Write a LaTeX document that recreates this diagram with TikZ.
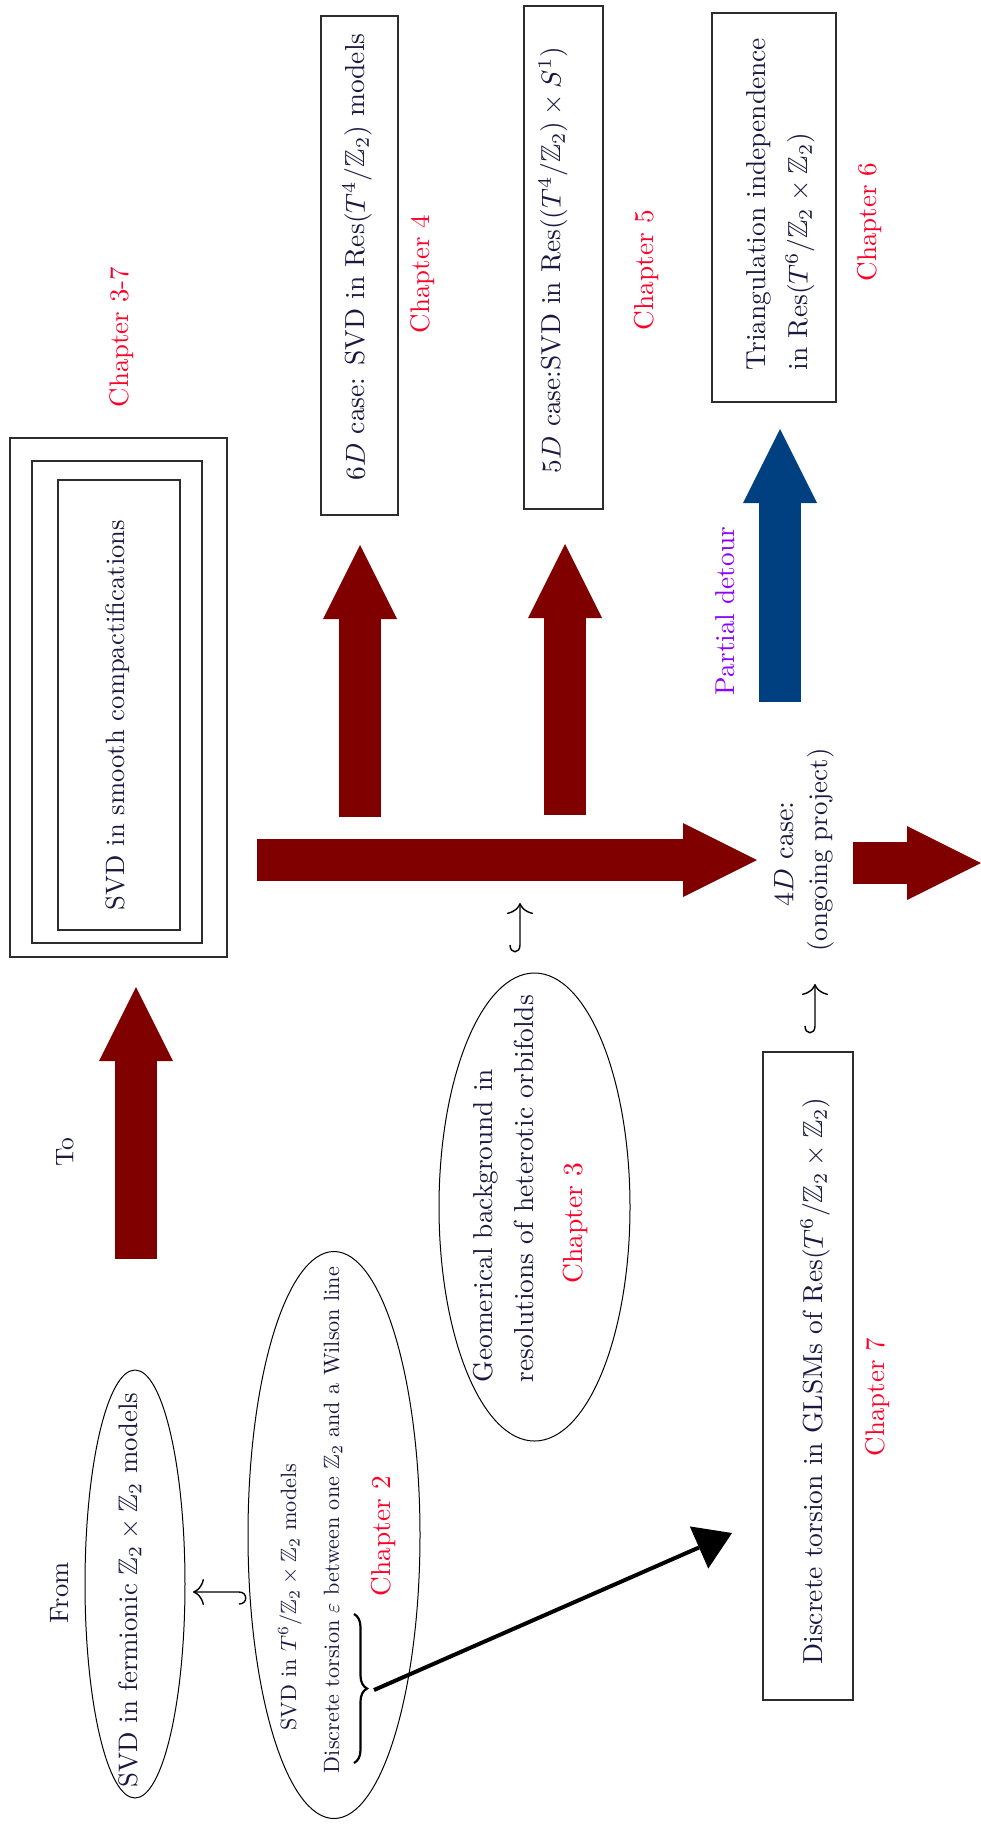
\documentclass[tikz,border=0pt]{standalone}
\usepackage{amssymb}
\usepackage{graphicx}
\usetikzlibrary{shapes.geometric,arrows.meta,decorations.pathreplacing}
\definecolor{maroonA}{RGB}{128,0,0}
\definecolor{navyA}{RGB}{0,64,128}
\definecolor{chapred}{RGB}{255,0,40}
\definecolor{violetA}{RGB}{140,0,255}
\definecolor{txt}{RGB}{25,25,65}
\definecolor{boxline}{RGB}{45,45,45}
\newcommand{\fitto}[2]{\resizebox{#1pt}{!}{#2}}
\begin{document}
\begin{tikzpicture}[x=1pt,y=-1pt,
  lbl/.style={rotate=90, inner sep=0pt, text=txt},
  chap/.style={rotate=90, inner sep=0pt, text=chapred},
  boxframe/.style={draw=boxline, line width=1.3pt, inner sep=0pt},
  ovalshape/.style={draw=black, line width=1pt, ellipse, inner sep=0pt},
  bigarrow/.style={line width=42pt, -{Triangle[length=74pt,width=74pt,line width=0pt]}},
  hookarrow/.style={draw=black, line width=1.4pt, -{Computer Modern Rightarrow[length=11pt,width=26pt]}},
]
\fill[white] (0,0) rectangle (981,1827);
\useasboundingbox (0,0) rectangle (981,1827);

% triple box
\node[boxframe, minimum width=217pt, minimum height=519pt] (outer) at (118.5,697.5) {};
\node[boxframe, minimum width=170pt, minimum height=482pt] (middle) at (117,702) {};
\node[boxframe, minimum width=122pt, minimum height=450pt] (inner) at (119,705) {};
\node[lbl] (tsmooth) at (118,715) {\fitto{390}{SVD in smooth compactifications}};
\node[chap] (c37) at (122,337) {\fitto{140}{Chapter 3-7}};

% 6D
\node[boxframe, minimum width=77pt, minimum height=499pt] (b6) at (359.5,265.5) {};
\node[lbl] (t6) at (357,257) {\fitto{447}{$6D$ case: SVD in Res$(T^4/\mathbb{Z}_2)$ models}};
\node[chap] (c4) at (423,274) {\fitto{118}{Chapter 4}};

% 5D
\node[boxframe, minimum width=79pt, minimum height=503pt] (b5) at (563.5,257.5) {};
\node[lbl] (t5) at (553,260) {\fitto{426}{$5D$ case:SVD in Res$((T^4/\mathbb{Z}_2)\times S^1)$}};
\node[chap] (c5) at (647,270) {\fitto{120}{Chapter 5}};

% triangulation
\node[boxframe, minimum width=124pt, minimum height=389pt] (btri) at (774,207.5) {};
\node[lbl] (ttri1) at (759,204) {\fitto{332}{Triangulation independence}};
\node[lbl] (ttri2) at (800,251.5) {\fitto{237}{in Res$(T^6/\mathbb{Z}_2\times\mathbb{Z}_2)$}};
\node[chap] (c6) at (870,222) {\fitto{119}{Chapter 6}};

% partial detour and 4D
\node[rotate=90, inner sep=0pt, text=violetA] (tpd) at (725,611) {\fitto{168}{Partial detour}};
\node[lbl] (t4a) at (784,854) {\fitto{105}{$4D$ case:}};
\node[lbl] (t4b) at (821,850) {\fitto{203}{(ongoing project)}};

% From / To
\node[lbl] (tto) at (65,1152) {\fitto{29}{To}};
\node[lbl] (tfrom) at (60,1593) {\fitto{61}{From}};

% ellipse 1
\node[ovalshape, minimum width=100pt, minimum height=428pt] (e1) at (135,1584) {};
\node[lbl] (te1) at (130,1590) {\fitto{395}{SVD in fermionic $\mathbb{Z}_2\times\mathbb{Z}_2$ models}};

% ellipse 2
\node[ovalshape, minimum width=172pt, minimum height=567pt] (e2) at (334,1535) {};
\node[lbl] (te2a) at (290,1597) {\fitto{267}{SVD in $T^6/\mathbb{Z}_2\times\mathbb{Z}_2$ models}};
\node[lbl] (te2b) at (333,1520) {\fitto{506}{Discrete torsion $\varepsilon$ between one $\mathbb{Z}_2$ and a Wilson line}};
\node[chap] (c2) at (384,1536) {\fitto{120}{Chapter 2}};

% ellipse 3
\node[ovalshape, minimum width=191pt, minimum height=468pt] (e3) at (534.5,1207) {};
\node[lbl] (te3a) at (486,1225.5) {\fitto{313}{Geomerical background in}};
\node[lbl] (te3b) at (524,1188.5) {\fitto{387}{resolutions of heterotic orbifolds}};
\node[chap] (c3) at (575,1223) {\fitto{121}{Chapter 3}};

% discrete torsion box
\node[boxframe, minimum width=90pt, minimum height=648pt] (bdt) at (808,1376) {};
\node[lbl] (tdt) at (815,1381) {\fitto{567}{Discrete torsion in GLSMs of Res$(T^6/\mathbb{Z}_2\times\mathbb{Z}_2)$}};
\node[chap] (c7) at (878,1397) {\fitto{118}{Chapter 7}};

% big arrows
\coordinate (a1s) at (136,1259); \coordinate (a1e) at (136,987);
\coordinate (ahs) at (257,860);  \coordinate (ahe) at (757,860);
\coordinate (a6s) at (360,817);  \coordinate (a6e) at (360,545);
\coordinate (a5s) at (565,815);  \coordinate (a5e) at (565,544);
\coordinate (abs) at (780,702);  \coordinate (abe) at (780,429);
\coordinate (ars) at (853,863);  \coordinate (are) at (981,863);
\draw[bigarrow, maroonA] (a1s) -- (a1e);
\draw[bigarrow, maroonA] (ahs) -- (ahe);
\draw[bigarrow, maroonA] (a6s) -- (a6e);
\draw[bigarrow, maroonA] (a5s) -- (a5e);
\draw[bigarrow, navyA] (abs) -- (abe);
\draw[bigarrow, maroonA] (ars) -- (are);

% brace and black arrow
\draw[black, line width=2.2pt, decorate, decoration={brace, amplitude=13pt}] (354,1614) -- (354,1763);
\coordinate (bt0) at (374,1690); \coordinate (bt1) at (732,1533);
\draw[black, line width=4pt, -{Triangle[length=36pt,width=46pt,line width=0pt]}] (bt0) -- (bt1);

% hook arrows
\coordinate (h1t) at (193,1592);
\draw[hookarrow] (239,1604) .. controls (248,1604) and (248,1592) .. (239,1592) -- (h1t);
\coordinate (h2t) at (520,903);
\draw[hookarrow] (510,945) .. controls (510,954) and (520,954) .. (520,945) -- (h2t);
\coordinate (h3t) at (815,984);
\draw[hookarrow] (805,1026) .. controls (805,1035) and (815,1035) .. (815,1026) -- (h3t);
\end{tikzpicture}
\end{document}
